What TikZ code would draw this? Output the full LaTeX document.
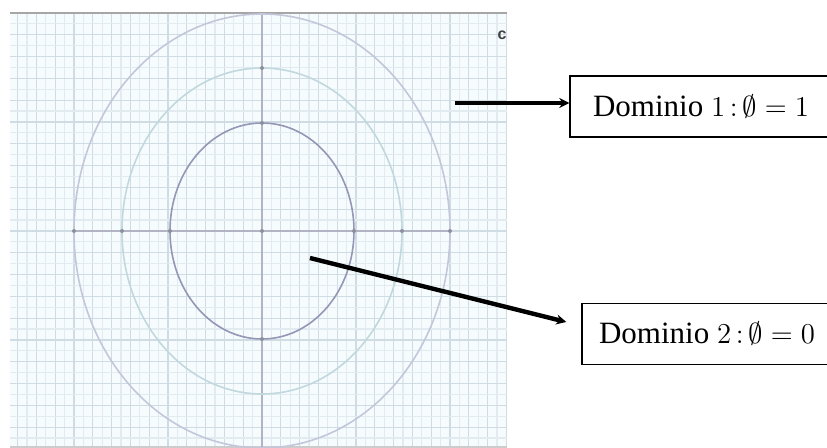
\documentclass[tikz,border=0pt]{standalone}
\usepackage{fontspec}
\setmainfont{Liberation Serif}
\setsansfont{Liberation Sans}
\usetikzlibrary{arrows.meta}
\definecolor{paper}{RGB}{246,252,253}
\definecolor{gridline}{RGB}{226,235,240}
\definecolor{gridmajor}{RGB}{208,220,228}
\definecolor{axisline}{RGB}{178,180,198}
\definecolor{ringin}{RGB}{150,150,182}
\definecolor{ringmid}{RGB}{192,216,222}
\definecolor{ringout}{RGB}{196,198,218}
\tikzset{
  domainbox/.style={draw,line width=0.7pt,minimum height=30.5pt,
    inner sep=0pt,font=\fontsize{15.5}{17}\selectfont},
  pointer/.style={line width=2.2pt,-{Stealth[length=5pt,width=5pt]}},
  ringdot/.style={fill=axisline!80!black,circle,inner sep=0pt,minimum size=2pt}
}
\begin{document}
\begin{tikzpicture}[x=0.5pt,y=-0.5pt]
\useasboundingbox (0,0) rectangle (827,448);
\fill[paper] (10,13) rectangle (507,447);

% squared paper
\foreach \i in {-26,...,26}{
  \pgfmathsetmacro{\gx}{262+\i*9.4}
  \ifodd\i \def\gc{gridline}\else \def\gc{gridmajor}\fi
  \draw[\gc,line width=0.6pt] (\gx,13) -- (\gx,447);
}
\foreach \j in {-19,...,19}{
  \pgfmathsetmacro{\gy}{231+\j*10.9}
  \ifodd\j \def\gc{gridline}\else \def\gc{gridmajor}\fi
  \draw[\gc,line width=0.6pt] (10,\gy) -- (507,\gy);
}
\draw[gray!70,line width=1pt] (10,13) -- (507,13);
\draw[gray!40,line width=0.8pt] (10,447) -- (507,447);

% axes
\draw[axisline,line width=0.6pt] (73,231) -- (450,231);
\draw[axisline,line width=0.6pt] (262,13) -- (262,447);

% rings
\draw[ringout,line width=0.8pt] (262,231) ellipse [x radius=188,y radius=217];
\draw[ringmid,line width=0.8pt] (262,231) ellipse [x radius=140,y radius=163];
\draw[ringin,line width=0.8pt] (262,231) ellipse [x radius=92,y radius=108];

\foreach \r in {92,140,188}{
  \node[ringdot] at (262-\r,231) {};
  \node[ringdot] at (262+\r,231) {};
}
\node[ringdot] at (262,123) {};
\node[ringdot] at (262,339) {};
\node[ringdot] at (262,68) {};
\node[ringdot] at (262,231) {};

\node[font=\sffamily\bfseries\fontsize{8}{8}\selectfont,text=black!75] (cut) at (502,35) {c};

% labels
\node[domainbox,minimum width=131pt] (box1) at (701,106.5) {Dominio $1\,{:}\,\emptyset = 1$};
\node[domainbox,minimum width=125pt] (box2) at (707,334) {Dominio $2\,{:}\,\emptyset = 0$};

\coordinate (tail1) at (455,103);
\coordinate (tail2) at (310,258);
\draw[pointer] (tail1) -- (tail1 -| box1.west);
\draw[pointer] (tail2) -- ([shift={(-15,-12)}]box2.west);
\end{tikzpicture}
\end{document}
